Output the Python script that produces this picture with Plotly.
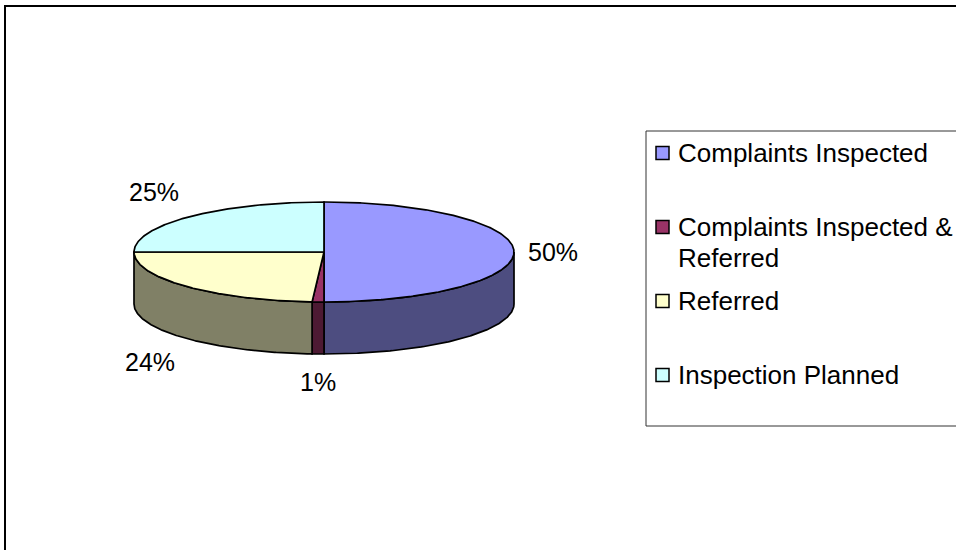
import textwrap
import numpy as np
import plotly.graph_objects as go

# Data
categories = ["Complaints Inspected", "Complaints Inspected & Referred",
              "Referred", "Inspection Planned"]
shares = [50, 1, 24, 25]  # percent
top_colors = ["#9999FF", "#993366", "#FFFFCC", "#CCFFFF"]
side_colors = ["#4D4D80", "#4D1A33", "#808066", "#668080"]

# Canvas and pie geometry (pixel units)
W, H = 956, 550
cx, cy, rx, ry, depth = 324, 252, 190, 50, 52
FONT = "Liberation Sans, Arial, sans-serif"
LABEL_FS = 25
LEGEND_FS = 26


def ellipse(theta_deg, dy=0.0):
    t = np.radians(theta_deg)
    return cx + rx * np.sin(t), cy - ry * np.cos(t) + dy


def arc(a0, a1, dy=0.0):
    n = max(int(abs(a1 - a0) * 2) + 2, 3)
    th = np.linspace(a0, a1, n)
    return ellipse(th, dy)


fig = go.Figure()

total = float(sum(shares))
bounds = np.concatenate([[0.0], np.cumsum(shares) / total * 360.0])
edge = dict(color="black", width=1.7)

# Side walls (front half only, 90..270 degrees clockwise from 12 o'clock)
for i in range(len(shares)):
    lo, hi = max(bounds[i], 90.0), min(bounds[i + 1], 270.0)
    if hi <= lo:
        continue
    xt, yt = arc(lo, hi)
    xb, yb = arc(hi, lo, depth)
    xs = np.concatenate([xt, xb, xt[:1]])
    ys = np.concatenate([yt, yb, yt[:1]])
    fig.add_trace(go.Scatter(x=xs, y=ys, mode="lines", fill="toself",
                             fillcolor=side_colors[i], line=edge,
                             hoverinfo="skip", showlegend=False))

# Top faces
for i in range(len(shares)):
    xa, ya = arc(bounds[i], bounds[i + 1])
    xs = np.concatenate([[cx], xa, [cx]])
    ys = np.concatenate([[cy], ya, [cy]])
    fig.add_trace(go.Scatter(x=xs, y=ys, mode="lines", fill="toself",
                             fillcolor=top_colors[i], line=edge,
                             hoverinfo="skip", showlegend=False))

# Percentage labels outside the pie at each slice's mid angle
annotations = []
for i, v in enumerate(shares):
    mid = (bounds[i] + bounds[i + 1]) / 2.0
    s, c = np.sin(np.radians(mid)), np.cos(np.radians(mid))
    px, py = ellipse(mid, depth if c < 0 else 0.0)
    px += 12 * s
    py -= 12 * c
    xa = "left" if s > 0.3 else ("right" if s < -0.3 else "center")
    ya = "bottom" if c > 0.3 else ("top" if c < -0.3 else "middle")
    annotations.append(dict(x=px, y=py, xref="x", yref="y", text=f"{v}%",
                            showarrow=False, xanchor=xa, yanchor=ya,
                            font=dict(family=FONT, size=LABEL_FS,
                                      color="black")))

# Outer frame and legend box with swatches
shapes = [
    dict(type="rect", xref="x", yref="y", x0=5, y0=6, x1=W + 10, y1=H + 10,
         line=dict(color="black", width=2), fillcolor="rgba(0,0,0,0)",
         layer="below"),
    dict(type="rect", xref="x", yref="y", x0=646, y0=131, x1=W + 10, y1=426,
         line=dict(color="#333333", width=1), fillcolor="white",
         layer="below"),
]
legend_top, legend_step, line_gap = 153, 74, 31
for i, name in enumerate(categories):
    yc = legend_top + i * legend_step
    shapes.append(dict(type="rect", xref="x", yref="y", x0=656, x1=669,
                       y0=yc - 6.5, y1=yc + 6.5, fillcolor=top_colors[i],
                       line=dict(color="black", width=1.5)))
    for k, line in enumerate(textwrap.wrap(name, 22)):
        annotations.append(dict(x=676, y=yc + k * line_gap, xref="x", yref="y",
                                text=line, showarrow=False, xanchor="left",
                                yanchor="middle",
                                font=dict(family=FONT, size=LEGEND_FS,
                                          color="black")))

fig.update_layout(
    width=W, height=H,
    margin=dict(l=0, r=0, t=0, b=0),
    paper_bgcolor="white", plot_bgcolor="white",
    xaxis=dict(range=[0, W], visible=False, fixedrange=True),
    yaxis=dict(range=[H, 0], visible=False, fixedrange=True),
    shapes=shapes, annotations=annotations,
    showlegend=False,
)

fig.write_html("out.html")
